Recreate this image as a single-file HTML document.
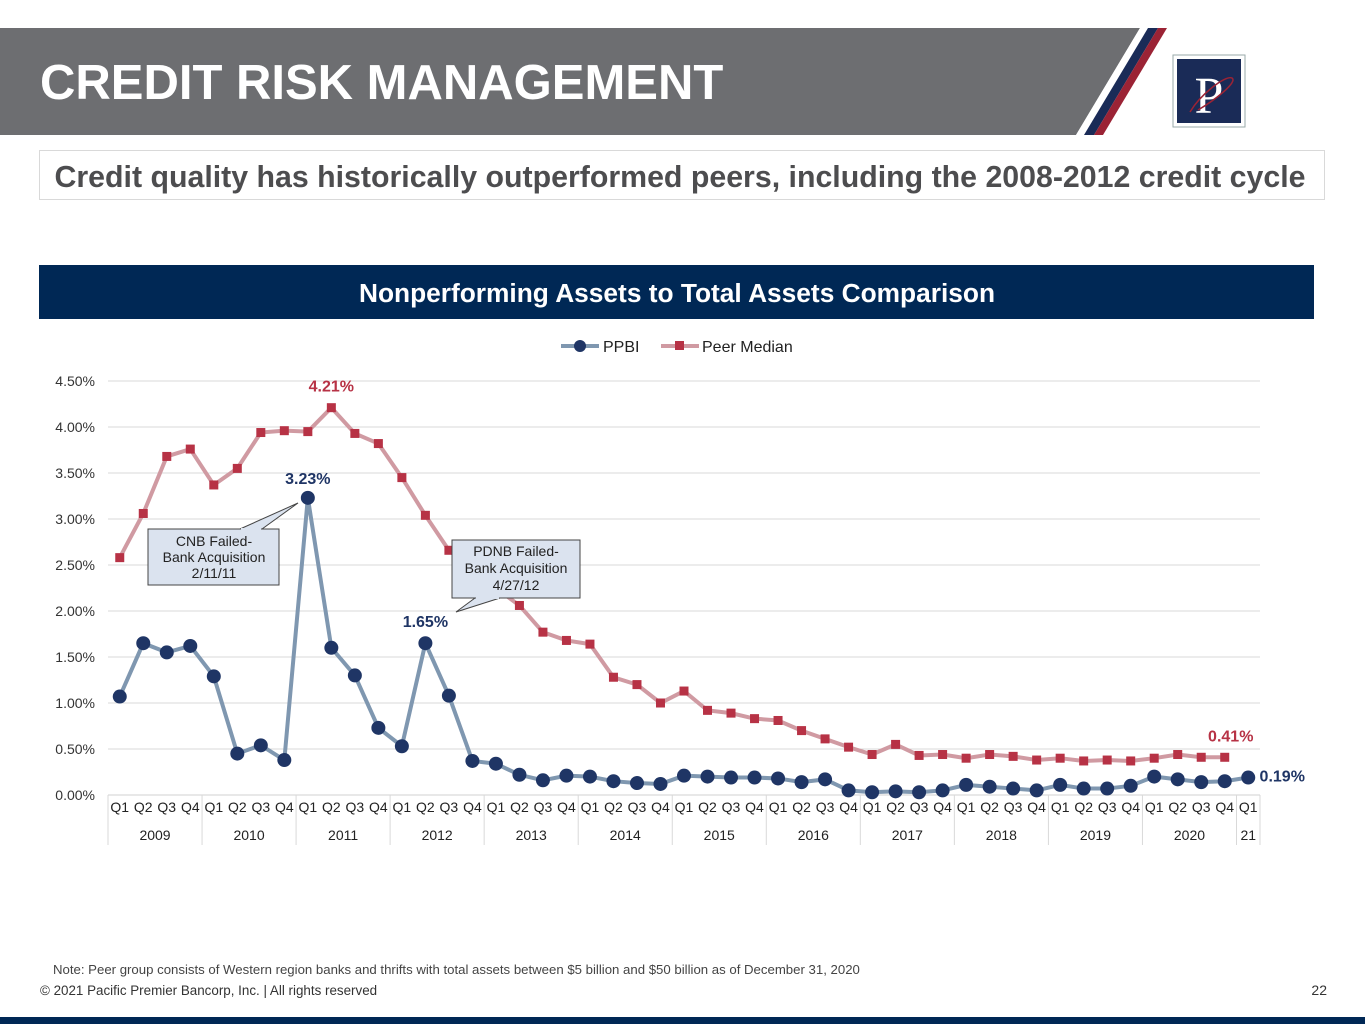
<!DOCTYPE html>
<html><head><meta charset="utf-8"><style>
body{margin:0;width:1365px;height:1024px;overflow:hidden;background:#fff;font-family:"Liberation Sans",Arial,sans-serif}
svg{display:block}
</style></head><body>
<svg id="s" width="1365" height="1024" xmlns="http://www.w3.org/2000/svg" font-family="Liberation Sans, Arial, sans-serif">
<g>
<polygon points="0,28 1140,28 1076,135 0,135" fill="#6d6e71"/>
<polygon points="1140,28 1148,28 1084,135 1076,135" fill="#fff"/>
<polygon points="1148,28 1158,28 1094,135 1084,135" fill="#1a2b57"/>
<polygon points="1158,28 1167,28 1103,135 1094,135" fill="#9b2335"/>
<text x="40" y="99" font-size="49" font-weight="bold" fill="#fff">CREDIT RISK MANAGEMENT</text>
<rect x="1173" y="55" width="72" height="72" fill="#fff" stroke="#9aa" stroke-width="1"/>
<rect x="1177" y="59" width="64" height="64" fill="#1a2b57"/>
<text x="1209" y="113" font-size="52" font-family="Liberation Serif, serif" fill="#fff" text-anchor="middle">P</text>
<path d="M1190 112 C1200 95 1225 75 1232 78 C1238 82 1215 100 1198 110" stroke="#9b2335" fill="none" stroke-width="1.5"/>
</g>
<rect x="39.5" y="150.5" width="1285" height="49" fill="#fff" stroke="#d9d9d9"/>
<text x="680" y="187" font-size="30.3" font-weight="bold" fill="#4d4d4f" text-anchor="middle">Credit quality has historically outperformed peers, including the 2008-2012 credit cycle</text>
<rect x="39" y="265" width="1275" height="54" fill="#002855"/>
<text x="677" y="302" font-size="26.3" font-weight="bold" fill="#fff" text-anchor="middle">Nonperforming Assets to Total Assets Comparison</text>
<g font-size="16" fill="#222">
<line x1="561" y1="346" x2="599" y2="346" stroke="#7f97b0" stroke-width="4"/><circle cx="580" cy="346" r="6" fill="#1f3565"/>
<text x="603" y="352">PPBI</text>
<line x1="661" y1="346" x2="699" y2="346" stroke="#d09aa2" stroke-width="4"/><rect x="675" y="341" width="9" height="9" fill="#b73245"/>
<text x="702" y="352">Peer Median</text>
</g>
<g id="grid"></g><g id="axis"></g><g id="lines"></g>
<g>
<polygon points="148,529 279,529 279,585 148,585" fill="#dbe3ef" stroke="#444"/>
<polygon points="240,529 298,503 262,529" fill="#dbe3ef" stroke="#444"/>
<line x1="241" y1="529" x2="261" y2="529" stroke="#dbe3ef" stroke-width="2"/>
<text font-size="14" fill="#222" text-anchor="middle"><tspan x="214" y="546">CNB Failed-</tspan><tspan x="214" y="562">Bank Acquisition</tspan><tspan x="214" y="578">2/11/11</tspan></text>
</g>
<g>
<polygon points="452,540 580,540 580,598 452,598" fill="#dbe3ef" stroke="#444"/>
<polygon points="475,598 456,612 500,598" fill="#dbe3ef" stroke="#444"/>
<line x1="476" y1="598" x2="499" y2="598" stroke="#dbe3ef" stroke-width="2"/>
<text font-size="14" fill="#222" text-anchor="middle"><tspan x="516" y="556">PDNB Failed-</tspan><tspan x="516" y="573">Bank Acquisition</tspan><tspan x="516" y="590">4/27/12</tspan></text>
</g>
<text x="53" y="974" font-size="13.2" fill="#444">Note: Peer group consists of Western region banks and thrifts with total assets between $5 billion and $50 billion as of December 31, 2020</text>
<text x="40" y="995" font-size="13.4" fill="#333">© 2021 Pacific Premier Bancorp, Inc. | All rights reserved</text>
<text x="1327" y="995" font-size="14" fill="#333" text-anchor="end">22</text>
<rect x="0" y="1017" width="1365" height="7" fill="#002855"/>
</svg>
<script>
const years=["2009","2010","2011","2012","2013","2014","2015","2016","2017","2018","2019","2020","21"];
const quarters=["Q1","Q2","Q3","Q4"];
const yTicks=[0,0.5,1,1.5,2,2.5,3,3.5,4,4.5];
const ppbi=[1.07,1.65,1.55,1.62,1.29,0.45,0.54,0.38,3.23,1.60,1.30,0.73,0.53,1.65,1.08,0.37,0.34,0.22,0.16,0.21,0.20,0.15,0.13,0.12,0.21,0.20,0.19,0.19,0.18,0.14,0.17,0.05,0.03,0.04,0.03,0.05,0.11,0.09,0.07,0.05,0.11,0.07,0.07,0.10,0.20,0.17,0.14,0.15,0.19];
const peer=[2.58,3.06,3.68,3.76,3.37,3.55,3.94,3.96,3.95,4.21,3.93,3.82,3.45,3.04,2.66,2.45,2.25,2.06,1.77,1.68,1.64,1.28,1.20,1.00,1.13,0.92,0.89,0.83,0.81,0.70,0.61,0.52,0.44,0.55,0.43,0.44,0.40,0.44,0.42,0.38,0.40,0.37,0.38,0.37,0.40,0.44,0.41,0.41];
const labels=[{s:"peer",i:9,t:"4.21%",c:"#b73245",dy:-16,dx:0},{s:"ppbi",i:8,t:"3.23%",c:"#1f3565",dy:-14,dx:0},{s:"ppbi",i:13,t:"1.65%",c:"#1f3565",dy:-16,dx:0},{s:"peer",i:47,t:"0.41%",c:"#b73245",dy:-16,dx:6},{s:"ppbi",i:48,t:"0.19%",c:"#1f3565",dy:4,dx:34}];
const NS="http://www.w3.org/2000/svg";
const X0=108,X1=1260,N=49,Y0=795,PX=92;
const cw=(X1-X0)/N;
const xs=i=>X0+cw*(i+0.5);
const ys=v=>Y0-v*PX;
function mk(t,a,p){const e=document.createElementNS(NS,t);for(const k in a)e.setAttribute(k,a[k]);p.appendChild(e);return e;}
const grid=document.getElementById('grid'),axis=document.getElementById('axis'),lines=document.getElementById('lines');
yTicks.forEach(v=>{
 const l=mk('line',{x1:X0,x2:X1,y1:ys(v),y2:ys(v),stroke:v===0?'#d0d0d0':'#d9d9d9'},grid);
 
 
 const t=mk('text',{x:95,y:ys(v)+5,'font-size':14,fill:'#333','text-anchor':'end'},axis);
 
 
 t.textContent=v.toFixed(2)+'%';
});
for(let i=0;i<N;i++){
 const t=mk('text',{x:xs(i),y:Y0+17,'font-size':14,fill:'#222','text-anchor':'middle'},axis);
 
 
 t.textContent=quarters[i%4];
}
years.forEach((y,j)=>{
 const a=j*4,b=Math.min(a+4,N);
 const l=mk('line',{x1:X0+cw*a,x2:X0+cw*a,y1:Y0,y2:Y0+50,stroke:'#d9d9d9'},axis);
 
 
 const t=mk('text',{x:X0+cw*(a+b)/2,y:Y0+45,'font-size':14,fill:'#222','text-anchor':'middle'},axis);
 
 
 t.textContent=y;
});
const le=mk('line',{x1:X1,x2:X1,y1:Y0,y2:Y0+50,stroke:'#d9d9d9'},axis);


const pp=mk('polyline',{points:peer.map((v,i)=>xs(i)+','+ys(v)).join(' '),fill:'none',stroke:'#d09aa2','stroke-width':4},lines);


peer.forEach((v,i)=>{const r=mk('rect',{x:xs(i)-4.5,y:ys(v)-4.5,width:9,height:9,fill:'#b73245'},lines);
 
 });
const pl=mk('polyline',{points:ppbi.map((v,i)=>xs(i)+','+ys(v)).join(' '),fill:'none',stroke:'#7f97b0','stroke-width':4},lines);


ppbi.forEach((v,i)=>{const c=mk('circle',{cx:xs(i),cy:ys(v),r:7,fill:'#1f3565'},lines);
 
 });
labels.forEach(L=>{const v=(L.s==='peer'?peer:ppbi)[L.i];
 const t=mk('text',{x:xs(L.i)+L.dx,y:ys(v)+L.dy,'font-size':16,'font-weight':'bold',fill:L.c,'text-anchor':'middle'},lines);
 
 
 t.textContent=L.t;});
</script>
</body></html>
